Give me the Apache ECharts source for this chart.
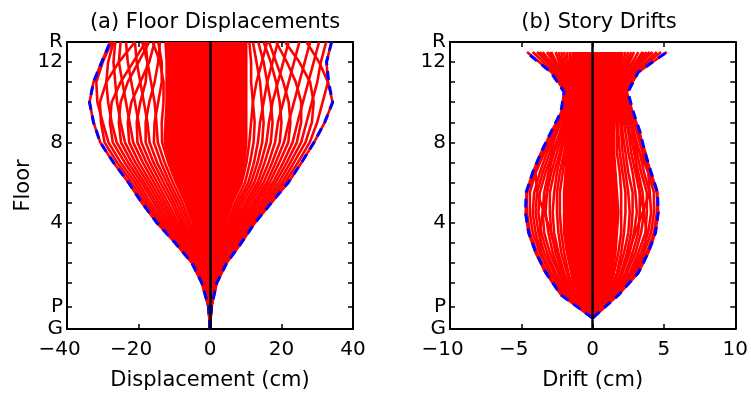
<!DOCTYPE html>
<html>
<head>
<meta charset="utf-8">
<script src="https://cdn.jsdelivr.net/npm/echarts@6/dist/echarts.min.js"></script>
<style>
  html, body { margin: 0; padding: 0; background: #fff; }
  #chart { width: 751px; height: 399px; }
</style>
</head>
<body>
<div id="chart"></div>
<script>
// floor heights (G, P, 1..12, R) and mid-story heights used for drifts
const floorLevels = [-1.3, -0.2, 1, 2, 3, 4, 5, 6, 7, 8, 9, 10, 11, 12, 13];
const storyLevels = [-0.75, 0.4, 1.5, 2.5, 3.5, 4.5, 5.5, 6.5, 7.5, 8.5, 9.5, 10.5, 11.5, 12.5];
const floorLabelValues = [-1.3, -0.2, 4, 8, 12, 13];
const floorLabelNames = ['G', 'P', '4', '8', '12', 'R'];
const floorTickValues = [-0.2, 1, 2, 3, 4, 5, 6, 7, 8, 9, 10, 11, 12];

// (a) floor displacement envelopes, cm
const dispEnvMin = [0, -0.4, -2.3, -5.1, -9.8, -14.9, -19.1, -22.8, -27.0, -30.7, -32.6, -33.7, -32.6, -30.3, -27.9];
const dispEnvMax = [0, 0.4, 1.9, 4.7, 8.8, 12.6, 17.2, 21.9, 25.6, 29.1, 32.1, 34.3, 33.2, 32.6, 34.0];
// dense band of overlapping histories around zero
const dispCoreMin = [0, -0.2, -1.0, -2.1, -3.5, -4.9, -6.9, -9.5, -11.7, -13.0, -12.8, -12.5, -12.5, -12.5, -12.8];
const dispCoreMax = [0, 0.2, 0.9, 1.9, 3.1, 4.4, 6.2, 8.9, 10.0, 10.5, 10.5, 10.5, 10.5, 10.5, 10.5];
// individual displaced shapes
const dispProfilesNeg = [
  [0, -0.4, -2.3, -5.1, -9.8, -14.9, -19.1, -22.8, -27.0, -30.7, -32.6, -33.7, -32.6, -30.3, -27.9],
  [0, -0.4, -2.2, -4.9, -9.4, -14.2, -18.3, -21.9, -26.0, -29.5, -30.5, -30.8, -29.0, -25.5, -21.0],
  [0, -0.4, -2.1, -4.7, -9.0, -13.6, -17.5, -21.0, -25.0, -28.4, -30.0, -31.5, -31.8, -30.0, -27.5],
  [0, -0.3, -2.0, -4.5, -8.5, -12.9, -16.7, -20.1, -23.9, -27.2, -28.0, -27.5, -25.0, -21.5, -18.0],
  [0, -0.3, -2.0, -4.3, -8.1, -12.2, -15.8, -19.2, -22.9, -26.1, -27.5, -28.5, -29.0, -28.5, -27.0],
  [0, -0.3, -1.9, -4.1, -7.7, -11.6, -15.0, -18.4, -21.9, -24.9, -25.5, -25.0, -23.0, -20.0, -17.0],
  [0, -0.3, -1.8, -3.9, -7.3, -10.9, -14.2, -17.5, -20.9, -23.8, -25.0, -26.0, -26.5, -27.0, -26.5],
  [0, -0.3, -1.7, -3.7, -6.9, -10.2, -13.4, -16.6, -19.9, -22.6, -23.0, -22.0, -19.5, -17.0, -15.5],
  [0, -0.3, -1.6, -3.5, -6.4, -9.6, -12.6, -15.7, -18.8, -21.5, -22.5, -23.5, -24.5, -25.5, -25.0],
  [0, -0.3, -1.5, -3.3, -6.0, -8.9, -11.8, -14.8, -17.8, -20.3, -20.5, -19.5, -18.0, -17.5, -19.0],
  [0, -0.2, -1.5, -3.1, -5.6, -8.2, -10.9, -13.9, -16.8, -19.2, -20.0, -21.0, -22.0, -23.0, -23.5],
  [0, -0.2, -1.4, -2.9, -5.2, -7.6, -10.1, -13.0, -15.8, -18.0, -18.0, -17.0, -15.5, -14.5, -14.0],
  [0, -0.2, -1.3, -2.7, -4.8, -6.9, -9.3, -12.1, -14.8, -16.9, -17.5, -18.5, -19.5, -20.5, -21.0],
  [0, -0.2, -1.2, -2.5, -4.3, -6.2, -8.5, -11.3, -13.7, -15.7, -15.5, -14.5, -13.5, -13.5, -14.5],
  [0, -0.2, -1.1, -2.3, -3.9, -5.6, -7.7, -10.4, -12.7, -14.6, -15.0, -15.5, -16.5, -17.5, -18.0],
  [0, -0.2, -1.0, -2.1, -3.5, -4.9, -6.9, -9.5, -11.7, -13.4, -13.5, -13.0, -13.0, -14.0, -16.0]
];
const dispProfilesPos = [
  [0, 0.4, 1.9, 4.7, 8.8, 12.6, 17.2, 21.9, 25.6, 29.1, 32.1, 34.3, 33.0, 30.5, 27.0],
  [0, 0.4, 1.8, 4.5, 8.4, 12.1, 16.5, 21.0, 24.6, 27.9, 30.0, 31.5, 33.0, 32.6, 34.0],
  [0, 0.3, 1.8, 4.3, 8.0, 11.5, 15.7, 20.2, 23.5, 26.7, 28.5, 29.0, 28.0, 25.0, 21.0],
  [0, 0.3, 1.7, 4.1, 7.7, 11.0, 15.0, 19.3, 22.5, 25.5, 27.0, 28.5, 30.0, 31.0, 32.5],
  [0, 0.3, 1.6, 4.0, 7.3, 10.4, 14.3, 18.4, 21.5, 24.3, 25.5, 25.5, 24.0, 21.5, 18.5],
  [0, 0.3, 1.6, 3.8, 6.9, 9.9, 13.5, 17.6, 20.5, 23.1, 24.5, 26.0, 27.5, 29.0, 30.5],
  [0, 0.3, 1.5, 3.6, 6.5, 9.3, 12.8, 16.7, 19.4, 21.9, 22.5, 22.0, 20.5, 18.5, 16.5],
  [0, 0.3, 1.4, 3.4, 6.2, 8.8, 12.1, 15.9, 18.4, 20.7, 22.0, 23.5, 25.0, 26.5, 28.0],
  [0, 0.2, 1.4, 3.2, 5.8, 8.2, 11.3, 15.0, 17.4, 19.5, 20.0, 19.5, 18.5, 17.0, 15.0],
  [0, 0.2, 1.3, 3.0, 5.4, 7.7, 10.6, 14.1, 16.4, 18.2, 19.0, 20.5, 22.0, 23.5, 25.0],
  [0, 0.2, 1.2, 2.8, 5.0, 7.1, 9.9, 13.3, 15.3, 17.0, 17.5, 17.0, 16.0, 15.0, 13.5],
  [0, 0.2, 1.2, 2.7, 4.6, 6.6, 9.1, 12.4, 14.3, 15.8, 16.5, 17.5, 19.0, 20.5, 22.0],
  [0, 0.2, 1.1, 2.5, 4.3, 6.0, 8.4, 11.5, 13.3, 14.6, 15.0, 14.5, 14.0, 13.0, 12.0],
  [0, 0.2, 1.0, 2.3, 3.9, 5.5, 7.7, 10.7, 12.3, 13.4, 14.0, 15.0, 16.0, 17.5, 19.0],
  [0, 0.2, 1.0, 2.1, 3.5, 5.0, 7.0, 9.8, 11.2, 12.2, 12.5, 12.0, 11.5, 11.5, 11.0],
  [0, 0.2, 0.9, 1.9, 3.1, 4.4, 6.2, 8.9, 10.2, 11.0, 11.5, 12.0, 13.0, 14.5, 16.0]
];

// (b) story drift envelopes, cm
const driftEnvMin = [0, -2.23, -3.27, -3.97, -4.48, -4.71, -4.66, -4.2, -3.62, -2.93, -2.23, -2.0, -2.93, -4.66];
const driftEnvMax = [0, 1.82, 3.2, 3.9, 4.41, 4.6, 4.55, 4.1, 3.67, 3.33, 2.86, 2.47, 3.2, 5.2];
const driftCoreMin = [0, -1.2, -1.5, -1.8, -2.0, -2.0, -2.0, -1.9, -1.8, -1.7, -1.6, -1.5, -1.5, -1.4];
const driftCoreMax = [0, 1.1, 1.4, 1.6, 1.7, 1.8, 1.7, 1.6, 1.5, 1.5, 1.6, 1.6, 1.8, 2.0];
const driftProfilesNeg = [
  [0, -2.2, -3.3, -4.0, -4.5, -4.7, -4.6, -4.1, -3.5, -2.8, -2.1, -1.9, -2.9, -4.6],
  [0, -2.1, -3.2, -3.9, -4.4, -4.6, -4.65, -4.2, -3.6, -2.9, -2.2, -2.0, -2.7, -4.2],
  [0, -2.0, -3.0, -3.7, -4.2, -4.4, -4.4, -4.0, -3.4, -2.7, -2.1, -1.9, -2.5, -3.9],
  [0, -1.9, -2.9, -3.6, -4.0, -4.2, -4.1, -3.7, -3.2, -2.6, -2.0, -1.9, -2.4, -3.5],
  [0, -1.8, -2.7, -3.4, -3.8, -4.0, -3.9, -3.5, -3.0, -2.5, -2.0, -1.8, -2.3, -3.2],
  [0, -1.7, -2.6, -3.2, -3.6, -3.8, -3.7, -3.3, -2.8, -2.3, -1.9, -1.8, -2.2, -2.9],
  [0, -1.6, -2.4, -3.0, -3.4, -3.5, -3.4, -3.1, -2.7, -2.2, -1.9, -1.7, -2.1, -2.6],
  [0, -1.5, -2.3, -2.8, -3.1, -3.3, -3.2, -2.9, -2.5, -2.1, -1.8, -1.7, -2.0, -2.4],
  [0, -1.4, -2.1, -2.6, -2.9, -3.0, -3.0, -2.7, -2.3, -2.0, -1.8, -1.6, -1.9, -2.2],
  [0, -1.4, -2.0, -2.4, -2.7, -2.8, -2.7, -2.5, -2.2, -1.9, -1.7, -1.6, -1.8, -2.0],
  [0, -1.3, -1.8, -2.2, -2.4, -2.5, -2.5, -2.3, -2.0, -1.8, -1.7, -1.5, -1.7, -1.8],
  [0, -1.3, -1.7, -2.0, -2.2, -2.3, -2.3, -2.1, -1.9, -1.8, -1.6, -1.5, -1.6, -1.6],
  [0, -1.2, -1.5, -1.8, -2.0, -2.0, -2.0, -1.9, -1.8, -1.7, -1.6, -1.5, -1.5, -1.4],
  [0, -1.6, -2.2, -2.5, -2.9, -3.4, -3.9, -4.0, -3.4, -2.6, -2.0, -1.8, -2.3, -3.0],
  [0, -1.9, -3.0, -3.6, -3.7, -3.5, -3.2, -3.0, -2.9, -2.6, -2.1, -1.9, -2.6, -3.7]
];
const driftProfilesPos = [
  [0, 1.8, 3.2, 3.9, 4.4, 4.6, 4.5, 4.1, 3.6, 3.3, 2.8, 2.4, 3.2, 5.2],
  [0, 1.7, 3.0, 3.8, 4.3, 4.5, 4.55, 4.0, 3.7, 3.2, 2.7, 2.3, 3.0, 4.8],
  [0, 1.7, 2.9, 3.6, 4.1, 4.3, 4.3, 3.9, 3.5, 3.1, 2.7, 2.3, 2.9, 4.5],
  [0, 1.6, 2.7, 3.4, 3.9, 4.1, 4.0, 3.6, 3.3, 2.9, 2.5, 2.2, 2.7, 4.2],
  [0, 1.5, 2.6, 3.2, 3.7, 3.8, 3.8, 3.4, 3.1, 2.8, 2.4, 2.2, 2.6, 3.8],
  [0, 1.5, 2.4, 3.0, 3.4, 3.6, 3.5, 3.2, 2.9, 2.6, 2.3, 2.1, 2.5, 3.5],
  [0, 1.4, 2.3, 2.8, 3.2, 3.3, 3.3, 3.0, 2.7, 2.5, 2.2, 2.0, 2.4, 3.2],
  [0, 1.3, 2.1, 2.6, 2.9, 3.1, 3.0, 2.8, 2.5, 2.3, 2.1, 1.9, 2.3, 2.9],
  [0, 1.3, 2.0, 2.4, 2.7, 2.8, 2.8, 2.5, 2.3, 2.1, 2.0, 1.9, 2.2, 2.7],
  [0, 1.2, 1.8, 2.2, 2.5, 2.6, 2.5, 2.3, 2.1, 2.0, 1.9, 1.8, 2.1, 2.5],
  [0, 1.2, 1.7, 2.0, 2.2, 2.3, 2.3, 2.1, 1.9, 1.8, 1.8, 1.7, 2.0, 2.3],
  [0, 1.1, 1.5, 1.8, 2.0, 2.0, 2.0, 1.9, 1.7, 1.7, 1.7, 1.7, 1.9, 2.1],
  [0, 1.1, 1.4, 1.6, 1.7, 1.8, 1.7, 1.6, 1.5, 1.5, 1.6, 1.6, 1.8, 2.0],
  [0, 1.4, 2.0, 2.5, 3.0, 3.5, 4.0, 3.9, 3.3, 2.6, 2.1, 1.9, 2.6, 4.0],
  [0, 1.6, 2.8, 3.6, 3.8, 3.6, 3.3, 3.1, 3.0, 2.9, 2.6, 2.3, 2.8, 3.6]
];

const FONT = 'DejaVu Sans';
const RED = '#ff0000';
const BLUE = '#0000ff';

const chart = echarts.init(document.getElementById('chart'), null, { renderer: 'canvas' });

// negative tick labels: digits sit on the tick, the minus hangs to the left
function tickLabel(v) {
  if (v < 0) return '{neg|\u2212' + Math.abs(v) + '}';
  return String(v);
}

function floorLabel(v) {
  const i = floorLabelValues.findIndex((f) => Math.abs(f - v) < 1e-6);
  return i >= 0 ? floorLabelNames[i] : '';
}

function xAxes(grid, min, max, interval, name) {
  const common = {
    gridIndex: grid,
    type: 'value',
    min,
    max,
    interval,
    splitLine: { show: false },
    axisLine: { show: true, onZero: false, lineStyle: { color: '#000', width: 2 } },
    axisTick: { show: true, inside: true, length: 5, lineStyle: { color: '#000', width: 1.5 } },
  };
  return [
    {
      ...common,
      position: 'bottom',
      name,
      nameLocation: 'middle',
      nameGap: 41,
      nameTextStyle: { fontSize: 21, color: '#000', fontFamily: FONT },
      axisLabel: {
        fontSize: 20, color: '#000', fontFamily: FONT, margin: 11, formatter: tickLabel,
        rich: { neg: { fontSize: 20, color: '#000', fontFamily: FONT, padding: [0, 15, 0, 0] } },
      },
    },
    { ...common, position: 'top', axisLabel: { show: false } },
  ];
}

function yAxes(grid, withName) {
  const common = {
    gridIndex: grid,
    type: 'value',
    min: floorLevels[0],
    max: floorLevels[floorLevels.length - 1],
    splitLine: { show: false },
    axisLine: { show: true, onZero: false, lineStyle: { color: '#000', width: 2 } },
    axisTick: {
      show: true, inside: true, length: 5, customValues: floorTickValues,
      lineStyle: { color: '#000', width: 1.5 },
    },
  };
  return [
    {
      ...common,
      position: 'left',
      name: withName ? 'Floor' : '',
      nameLocation: 'middle',
      nameGap: 33,
      nameTextStyle: { fontSize: 21, color: '#000', fontFamily: FONT },
      axisLabel: {
        fontSize: 20, color: '#000', fontFamily: FONT, margin: 4,
        customValues: floorLabelValues, formatter: floorLabel,
      },
    },
    { ...common, position: 'right', axisLabel: { show: false } },
  ];
}

function profileSeries(profiles, levels, axis) {
  return profiles.map((p) => ({
    type: 'line',
    xAxisIndex: axis,
    yAxisIndex: axis,
    data: p.map((v, i) => [v, levels[i]]),
    symbol: 'none',
    silent: true,
    z: 2,
    lineStyle: { color: RED, width: 2.6 },
  }));
}

function coreSeries(minArr, maxArr, levels, axis) {
  return {
    type: 'custom',
    xAxisIndex: axis,
    yAxisIndex: axis,
    silent: true,
    z: 1,
    encode: { x: [0, 1], y: 2 },
    data: levels.map((y, i) => [minArr[i], maxArr[i], y]),
    renderItem(params, api) {
      if (params.dataIndex !== 0) return null;
      const left = levels.map((y, i) => api.coord([minArr[i], y]));
      const right = levels.map((y, i) => api.coord([maxArr[i], y])).reverse();
      return {
        type: 'polygon',
        shape: { points: left.concat(right) },
        style: { fill: RED },
      };
    },
  };
}

function envelopeSeries(values, levels, axis, withZeroLine) {
  const s = {
    type: 'line',
    xAxisIndex: axis,
    yAxisIndex: axis,
    data: values.map((v, i) => [v, levels[i]]),
    symbol: 'none',
    silent: true,
    z: 3,
    lineStyle: { color: BLUE, width: 3, type: [9, 6] },
  };
  if (withZeroLine) {
    s.markLine = {
      silent: true,
      symbol: 'none',
      label: { show: false },
      lineStyle: { color: '#000', width: 2.5, type: 'solid' },
      data: [{ xAxis: 0 }],
      z: 5,
    };
  }
  return s;
}

const options = {
  backgroundColor: '#fff',
  animation: false,
  textStyle: { fontFamily: FONT },
  title: [
    {
      text: '(a) Floor Displacements', left: 210, top: 7, textAlign: 'center',
      textStyle: { fontSize: 21, fontWeight: 'normal', color: '#000', fontFamily: FONT },
    },
    {
      text: '(b) Story Drifts', left: 594, top: 7, textAlign: 'center',
      textStyle: { fontSize: 21, fontWeight: 'normal', color: '#000', fontFamily: FONT },
    },
  ],
  grid: [
    { left: 67, top: 42, width: 286, height: 287 },
    { left: 450, top: 42, width: 288, height: 287 },
  ],
  xAxis: [
    ...xAxes(0, -40, 40, 20, 'Displacement (cm)'),
    ...xAxes(1, -10, 10, 5, 'Drift (cm)'),
  ],
  yAxis: [
    ...yAxes(0, true),
    ...yAxes(1, false),
  ],
  series: [
    coreSeries(dispCoreMin, dispCoreMax, floorLevels, 0),
    ...profileSeries(dispProfilesNeg, floorLevels, 0),
    ...profileSeries(dispProfilesPos, floorLevels, 0),
    envelopeSeries(dispEnvMin, floorLevels, 0, true),
    envelopeSeries(dispEnvMax, floorLevels, 0, false),
    coreSeries(driftCoreMin, driftCoreMax, storyLevels, 2),
    ...profileSeries(driftProfilesNeg, storyLevels, 2),
    ...profileSeries(driftProfilesPos, storyLevels, 2),
    envelopeSeries(driftEnvMin, storyLevels, 2, true),
    envelopeSeries(driftEnvMax, storyLevels, 2, false),
  ],
};

chart.setOption(options);
</script>
</body>
</html>
